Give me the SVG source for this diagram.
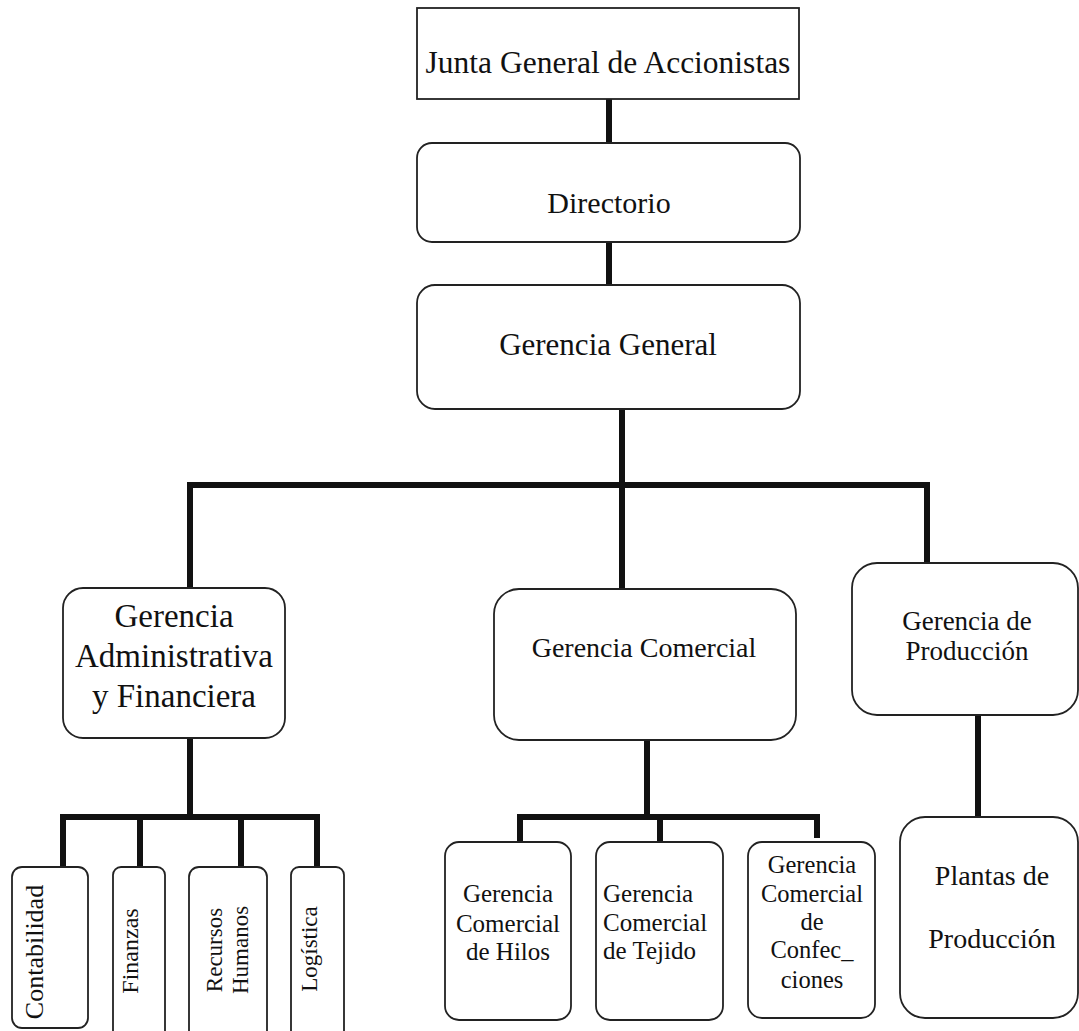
<svg xmlns="http://www.w3.org/2000/svg" width="1079" height="1031" viewBox="0 0 1079 1031">
<style>
.box{fill:#fff;stroke:#222;stroke-width:1.8}
.con{fill:none;stroke:#111;stroke-width:6;stroke-linecap:butt;stroke-linejoin:miter}
text{font-family:"Liberation Serif","Times New Roman",serif;fill:#111;text-anchor:middle}
</style>
<rect width="1079" height="1031" fill="#fff"/>
<g id="connectors">
<path class="con" d="M609 99V143"/>
<path class="con" d="M609 242V285"/>
<path class="con" d="M622 409V589"/>
<path class="con" d="M190 588V485H927V563"/>
<path class="con" d="M190 738V817"/>
<path class="con" d="M63 867V817H317V867"/>
<path class="con" d="M140 817V867"/>
<path class="con" d="M241 817V867"/>
<path class="con" d="M647 740V817"/>
<path class="con" d="M520 842V817H817V838"/>
<path class="con" d="M660 817V842"/>
<path class="con" d="M978 715V817"/>
</g>
<g id="junta">
<rect class="box" x="417" y="8" width="382" height="91"/>
<text x="608" y="73" font-size="31.5">Junta General de Accionistas</text>
</g>
<g id="directorio">
<rect class="box" x="417" y="143" width="383" height="99" rx="15"/>
<text x="609" y="213" font-size="30">Directorio</text>
</g>
<g id="gerencia-general">
<rect class="box" x="417" y="285" width="383" height="124" rx="18"/>
<text x="608" y="355" font-size="31">Gerencia General</text>
</g>
<g id="gerencia-administrativa">
<rect class="box" x="63" y="588" width="222" height="150" rx="20"/>
<text x="174" y="627" font-size="33">Gerencia</text>
<text x="174" y="667" font-size="33">Administrativa</text>
<text x="174" y="707" font-size="33">y Financiera</text>
</g>
<g id="contabilidad">
<rect class="box" x="12" y="867" width="76" height="161" rx="10"/>
<text transform="translate(43,952) rotate(-90)" font-size="26">Contabilidad</text>
</g>
<g id="finanzas">
<rect class="box" x="113" y="867" width="52" height="175" rx="8"/>
<text transform="translate(138,951) rotate(-90)" font-size="24">Finanzas</text>
</g>
<g id="recursos-humanos">
<rect class="box" x="189" y="867" width="78" height="175" rx="10"/>
<text transform="translate(222,950) rotate(-90)" font-size="23">Recursos</text>
<text transform="translate(248,950) rotate(-90)" font-size="23">Humanos</text>
</g>
<g id="logistica">
<rect class="box" x="291" y="867" width="53" height="175" rx="8"/>
<text transform="translate(317,949) rotate(-90)" font-size="23">Logística</text>
</g>
<g id="gerencia-comercial">
<rect class="box" x="494" y="589" width="302" height="151" rx="25"/>
<text x="644" y="657" font-size="28">Gerencia Comercial</text>
</g>
<g id="gc-hilos">
<rect class="box" x="445" y="842" width="126" height="178" rx="14"/>
<text x="508" y="902" font-size="25">Gerencia</text>
<text x="508" y="932" font-size="25">Comercial</text>
<text x="508" y="960" font-size="25">de Hilos</text>
</g>
<g id="gc-tejido">
<rect class="box" x="596" y="842" width="127" height="178" rx="14"/>
<text x="603" y="902" font-size="25" style="text-anchor:start">Gerencia</text>
<text x="603" y="931" font-size="25" style="text-anchor:start">Comercial</text>
<text x="603" y="959" font-size="25" style="text-anchor:start">de Tejido</text>
</g>
<g id="gc-confecciones">
<rect class="box" x="748" y="842" width="127" height="176" rx="14"/>
<text x="812" y="873" font-size="24.5">Gerencia</text>
<text x="812" y="902" font-size="24.5">Comercial</text>
<text x="812" y="930" font-size="24.5">de</text>
<text x="812" y="958" font-size="24.5">Confec_</text>
<text x="812" y="988" font-size="24.5">ciones</text>
</g>
<g id="gerencia-produccion">
<rect class="box" x="852" y="563" width="226" height="152" rx="25"/>
<text x="967" y="630" font-size="27">Gerencia de</text>
<text x="967" y="660" font-size="27">Producción</text>
</g>
<g id="plantas">
<rect class="box" x="900" y="817" width="178" height="201" rx="25"/>
<text x="992" y="885" font-size="28">Plantas de</text>
<text x="992" y="948" font-size="28">Producción</text>
</g>
</svg>
